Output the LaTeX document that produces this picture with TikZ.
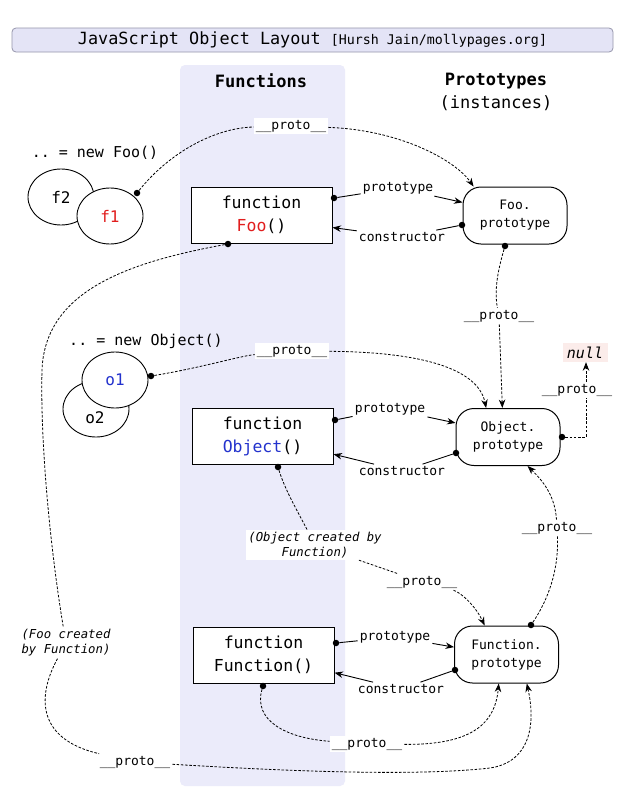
\documentclass[tikz,border=0pt]{standalone}
\usepackage{fontspec}
\setmonofont{DejaVu Sans Mono}
\usetikzlibrary{shapes.geometric,arrows.meta,calc}
\definecolor{bandc}{RGB}{235,235,250}
\definecolor{titlefill}{RGB}{228,228,246}
\definecolor{titledraw}{RGB}{150,150,172}
\definecolor{nullfill}{RGB}{251,236,234}
\definecolor{fred}{RGB}{225,30,30}
\definecolor{oblue}{RGB}{35,50,205}
\newcommand\mfs[2]{\ttfamily\fontsize{#1}{#2}\selectfont}
\begin{document}
\begin{tikzpicture}[x=1pt,y=-1pt,
  lbl/.style={font=\mfs{13}{15}, inner sep=2pt},
  wlbl/.style={lbl, fill=white},
  note/.style={font=\mfs{12.3}{15}\itshape, align=center, fill=white, inner sep=2pt},
  fbox/.style={draw, fill=white, line width=1pt, minimum width=141pt, minimum height=56pt, align=center, font=\mfs{16.5}{23}},
  pbox/.style={draw, fill=white, line width=1pt, rounded corners=18pt, minimum width=104pt, minimum height=57pt, align=center, font=\mfs{13}{18}},
  inst/.style={ellipse, draw, fill=white, line width=0.9pt, minimum width=66pt, minimum height=56pt, inner sep=0pt, font=\mfs{16}{18}},
  dot/.style={circle, fill=black, inner sep=0pt, minimum size=6.5pt},
  sl/.style={line width=0.9pt},
  dl/.style={line width=0.8pt, dash pattern=on 2.6pt off 1.6pt},
  tip/.style={-{Stealth[length=8.5pt,width=6.5pt]}}
]
\useasboundingbox (0,0) rectangle (626,806);
\fill[white] (0,0) rectangle (626,806);
\fill[bandc, rounded corners=5pt] (180,65) rectangle (345,786);

% title
\node[draw=titledraw, fill=titlefill, rounded corners=4pt, line width=0.8pt,
      minimum width=601pt, minimum height=24pt, inner sep=0pt] (title) at (312.5,40)
  {{\mfs{16.8}{18}JavaScript Object Layout\ }{\mfs{13.3}{15}[Hursh Jain/mollypages.org]}};

% headers
\node[font=\mfs{17}{23}\bfseries] (fh) at (261,81) {Functions};
\node[font=\mfs{17}{23}, align=center] (ph) at (496,92) {\textbf{Prototypes}\\(instances)};

% instances
\node[font=\mfs{15}{17}] (newfoo) at (95,153) {.. = new Foo()};
\node[inst] (f2) at (61,197) {f2};
\node[inst] (f1) at (110,216) {\textcolor{fred}{f1}};
\node[font=\mfs{15}{17}] (newobj) at (146,341) {.. = new Object()};
\node[inst, label={[font=\mfs{16}{18}, yshift=-9pt, xshift=-1pt]center:o2}] (o2) at (96,409) {};
\node[inst] (o1) at (115,380) {\textcolor{oblue}{o1}};

% function boxes
\node[fbox] (foo) at (261.5,215) {function\\\textcolor{fred}{Foo}()};
\node[fbox] (obj) at (262.5,436.5) {function\\\textcolor{oblue}{Object}()};
\node[fbox] (fun) at (263.5,655) {function\\Function()};

% prototype boxes
\node[pbox] (foop) at (515,215.5) {Foo.\\prototype};
\node[pbox] (objp) at (508,437) {Object.\\prototype};
\node[pbox] (funp) at (506.5,654.5) {Function.\\prototype};

% null
\node[fill=nullfill, minimum width=45pt, minimum height=19pt, inner sep=0pt,
      font=\mfs{15}{17}\itshape] (null) at (585,352.5) {null};

% labels
\node[wlbl] (p1) at (291,126) {\_\_proto\_\_};
\node[lbl] (fprot) at (398,188) {prototype};
\node[lbl] (fcons) at (402,237) {constructor};
\node[wlbl] (p2) at (499,316) {\_\_proto\_\_};
\node[wlbl] (p3) at (292,351) {\_\_proto\_\_};
\node[lbl] (oprot) at (390,409) {prototype};
\node[lbl] (ocons) at (402,471) {constructor};
\node[wlbl] (p5) at (557,528) {\_\_proto\_\_};
\node[note] (ocb) at (315,545) {(Object created by\\Function)};
\node[wlbl] (p6) at (422,582) {\_\_proto\_\_};
\node[lbl] (fprot2) at (395,637) {prototype};
\node[lbl] (fcons2) at (401,689) {constructor};
\node[wlbl] (p7) at (367,744) {\_\_proto\_\_};
\node[note] (fcb) at (66,643) {(Foo created\\by Function)};
\node[wlbl] (p8) at (135,762) {\_\_proto\_\_};

% dots
\node[dot] (d1) at (137,193) {};
\node[dot] (dfp) at (334,198) {};
\node[dot] (dfc) at (462,225) {};
\node[dot] (dfpp) at (505,246) {};
\node[dot] (d2) at (151,376) {};
\node[dot] (dop) at (335,420) {};
\node[dot] (doc) at (456,453) {};
\node[dot] (don) at (562,437) {};
\node[dot] (dob) at (278,467) {};
\node[dot] (dfunpt) at (531,625) {};
\node[dot] (dfnp) at (336,643) {};
\node[dot] (dfnc) at (455,670) {};
\node[dot] (dfb) at (263,686) {};
\node[dot] (dfoob) at (228,244) {};

% Foo connectors
\draw[dl] (d1) .. controls (170,152) and (215,128) .. (p1);
\draw[dl,tip] (p1) .. controls (400,130) and (455,160) .. (foop.145);
\draw[sl] (dfp) -- (fprot);
\draw[sl,tip] (fprot) -- (foop.166);
\draw[sl] (dfc) -- (fcons);
\draw[sl,tip] (fcons) -- (foo.-10);
\draw[dl] (dfpp) .. controls (498,270) and (494,290) .. (p2);
\draw[dl,tip] (p2) -- (objp.101);

% Object connectors
\draw[dl] (d2) .. controls (200,368) and (240,356) .. (p3);
\draw[dl,tip] (p3) .. controls (420,352) and (478,368) .. (objp.127);
\draw[sl] (dop) -- (oprot);
\draw[sl,tip] (oprot) -- (objp.165);
\draw[sl] (doc) -- (ocons);
\draw[sl,tip] (ocons) -- (obj.-14);
\coordinate (nk) at (586,437);
\draw[dl,tip] (don) -- (nk) -- (nk |- null.south);
\node[wlbl] (p4) at (577,390) {\_\_proto\_\_};

% Function.prototype -> Object.prototype
\draw[dl] (dfunpt) .. controls (548,600) and (559,570) .. (p5);
\draw[dl,tip] (p5) .. controls (555,495) and (542,480) .. (objp.-56);

% Object created by Function
\draw[dl] (dob) .. controls (285,490) and (298,512) .. (ocb);
\draw[dl] (ocb) -- (p6);
\draw[dl,tip] (p6) .. controls (460,592) and (475,605) .. (funp.127);

% Function connectors
\draw[sl] (dfnp) -- (fprot2);
\draw[sl,tip] (fprot2) -- (funp.172);
\draw[sl] (dfnc) -- (fcons2);
\draw[sl,tip] (fcons2) -- (fun.-14);
\draw[dl] (dfb) .. controls (253,720) and (285,738) .. (p7);
\draw[dl,tip] (p7) .. controls (470,745) and (495,725) .. (funp.-105);

% Foo created by Function
\draw[dl] (dfoob) .. controls (130,262) and (45,290) .. (42,370) .. controls (40,450) and (52,560) .. (fcb);
\draw[dl] (fcb) .. controls (35,700) and (40,740) .. (p8);
\draw[dl,tip] (p8) .. controls (300,772) and (420,776) .. (490,768) .. controls (530,762) and (536,725) .. (funp.-55);
\end{tikzpicture}
\end{document}
